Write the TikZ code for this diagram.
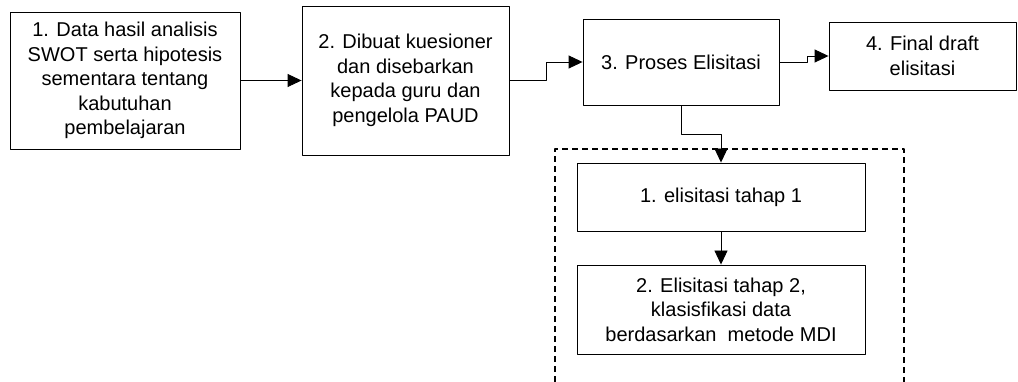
\documentclass[tikz,border=0pt]{standalone}
\usepackage{fontspec}
\setmainfont{Liberation Sans}
\usetikzlibrary{arrows.meta}
\begin{document}
\begin{tikzpicture}[x=1pt,y=-1pt,line join=round,>={Triangle[length=14pt,width=13pt]},
  font=\fontsize{20}{24.5}\selectfont,
  kotak/.style={draw,line width=.9pt,align=center,inner sep=0pt}]
  \useasboundingbox (0,0) rectangle (1018,382);
  % alur utama
  \node[kotak,minimum width=230pt,minimum height=137pt] (b1) at (125,80.5)
    {1. Data hasil analisis\\SWOT serta hipotesis\\sementara tentang\\kabutuhan\\pembelajaran};
  \node[kotak,minimum width=207pt,minimum height=149pt] (b2) at (405.5,80.5)
    {2. Dibuat kuesioner\\dan disebarkan\\kepada guru dan\\pengelola PAUD};
  \node[kotak,minimum width=196pt,minimum height=86pt] (b3) at (681,62)
    {3. Proses Elisitasi};
  \node[kotak,minimum width=187pt,minimum height=68pt] (b4) at (922.5,56)
    {4. Final draft\\elisitasi};
  % tahap elisitasi
  \draw[dashed,dash pattern=on 6pt off 4pt,line width=1.1pt]
    (555,382) -- (555,149) -- (904,149) -- (904,382);
  \node[kotak,minimum width=288pt,minimum height=68pt] (e1) at (721,197)
    {1. elisitasi tahap 1};
  \node[kotak,minimum width=288pt,minimum height=89pt] (e2) at (721,309.5)
    {2. Elisitasi tahap 2,\\klasisfikasi data\\berdasarkan\ \ metode MDI};
  \draw[->,line width=.9pt] (b1.east) -- (b2.west);
  \draw[->,line width=.9pt] (b2.east) -- ++(37,0) |- (b3.west);
  \draw[->,line width=.9pt] (b3.east) -- ++(28,0) |- (b4.west);
  \draw[->,line width=.9pt] (b3.south) -- ++(0,29) -| (e1.north);
  \draw[->,line width=.9pt] (e1.south) -- (e2.north);
\end{tikzpicture}
\end{document}
